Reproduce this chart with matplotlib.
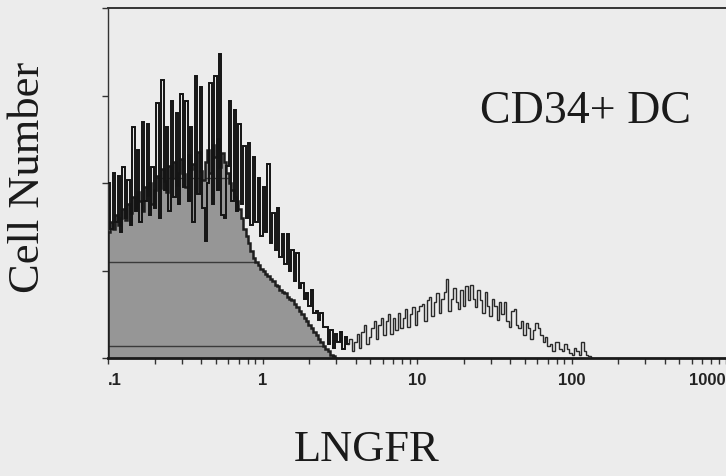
import numpy as np
import matplotlib
matplotlib.use("Agg")
import matplotlib.pyplot as plt
from matplotlib.ticker import FixedLocator, LogLocator, NullFormatter

# histogram channels: 256 bins over 4 log decades (0.1 .. 1000)
n_channels = 256
decade_lo, decade_hi = -1, 3

# isotype control (grey filled), counts per channel from channel 0
control_counts = [72, 78, 74, 82, 76, 80, 85, 79, 88, 83,
                  92, 86, 95, 90, 84, 98, 93, 100, 88, 96,
                  104, 97, 108, 101, 95, 110, 103, 112, 99, 106,
                  114, 105, 98, 116, 108, 111, 95, 118, 107, 102,
                  112, 119, 106, 122, 115, 125, 109, 117, 112, 106,
                  100, 96, 92, 90, 85, 80, 74, 70, 66, 61,
                  57, 55, 53, 51, 50, 48, 47, 45, 44, 42,
                  41, 39, 38, 37, 35, 34, 33, 31, 29, 27,
                  25, 23, 21, 19, 17, 15, 13, 11, 9, 7,
                  5, 4, 2, 1, 0]

# LNGFR stained CD34+ DC (open line), counts per channel from channel 0
sample_counts = [100, 74, 106, 78, 104, 72, 109, 80, 102, 76,
                 132, 84, 119, 78, 135, 90, 134, 82, 109, 86,
                 146, 80, 159, 96, 132, 84, 147, 92, 140, 88,
                 151, 98, 147, 90, 132, 78, 161, 94, 155, 86,
                 67, 100, 157, 88, 161, 96, 174, 82, 80, 110,
                 147, 90, 142, 84, 134, 88, 121, 80, 123, 76,
                 115, 78, 103, 70, 98, 72, 111, 66, 83, 62,
                 86, 58, 71, 54, 71, 50, 62, 44, 60, 40,
                 43, 34, 37, 30, 39, 26, 27, 22, 26, 18,
                 18, 8, 16, 6, 14, 9, 15, 5, 12, 8,
                 11, 4, 9, 14, 6, 15, 19, 8, 12, 17,
                 21, 11, 19, 23, 13, 21, 25, 14, 23, 16,
                 26, 17, 23, 28, 18, 25, 29, 19, 27, 30,
                 31, 21, 33, 35, 24, 32, 37, 26, 34, 38,
                 45, 27, 34, 40, 32, 28, 39, 30, 41, 33,
                 42, 34, 29, 39, 33, 26, 38, 30, 24, 34,
                 30, 22, 32, 25, 32, 21, 18, 27, 28, 19,
                 17, 21, 13, 20, 17, 11, 16, 20, 17, 13,
                 9, 12, 7, 8, 4, 9, 9, 5, 4, 8,
                 5, 3, 2, 6, 4, 2, 9, 4, 2, 1, 0]

# scanner streaks across the grey fill (count levels)
streak_levels = [7, 55, 103]

tick_values = [0.1, 1, 10, 100, 1000]
tick_labels = [".1", "1", "10", "100", "1000"]

bg = "#ececec"
fig = plt.figure(figsize=(7.26, 4.76), dpi=100, facecolor=bg)
ax = fig.add_axes([108 / 726, 1 - 358 / 476, 618 / 726, 350 / 476], facecolor=bg)

edges = 10 ** np.linspace(decade_lo, decade_hi, n_channels + 1)
ce = edges[:len(control_counts) + 1]
se = edges[:len(sample_counts) + 1]

fill = ax.stairs(control_counts, ce, fill=True, color="#969696", zorder=2)
ax.stairs(control_counts, ce, color="#1e1e1e", lw=1.8, zorder=3)
for lvl in streak_levels:
    ln = ax.axhline(lvl, color="#3a3a3a", lw=1.0, zorder=2.5)
    ln.set_clip_path(fill)

# heavier trace over the first peak, lighter over the tail
ax.stairs(sample_counts[:100], se[:101], baseline=None,
          color="#141414", lw=1.4, zorder=4)
ax.stairs(sample_counts[99:], se[99:], baseline=None,
          color="#2a2a2a", lw=1.0, zorder=4)

ax.set_xscale("log")
ax.set_xlim(0.1, 1000)
ax.set_ylim(0, 200)

ax.xaxis.set_major_locator(FixedLocator(tick_values))
ax.set_xticklabels(tick_labels, fontfamily="Liberation Sans",
                   fontweight="bold", fontsize=12, color="#222222")
ax.xaxis.set_minor_locator(LogLocator(base=10, subs=np.arange(2, 10)))
ax.xaxis.set_minor_formatter(NullFormatter())
labels = ax.get_xticklabels()
labels[0].set_ha("left")
labels[-1].set_ha("right")

ax.set_yticks([0, 50, 100, 150, 200])
ax.set_yticklabels([])
ax.tick_params(axis="both", which="both", direction="out", length=4,
               width=1.0, color="#333333")
ax.tick_params(axis="x", which="major", pad=7)

ax.spines["right"].set_visible(False)
ax.spines["bottom"].set_linewidth(2.0)
ax.spines["bottom"].set_color("#1a1a1a")
ax.spines["top"].set_linewidth(1.4)
ax.spines["top"].set_color("#333333")
ax.spines["left"].set_linewidth(1.0)
ax.spines["left"].set_color("#333333")
ax.spines["bottom"].set_zorder(5)

serif = "Liberation Serif"
fig.text(28 / 726, 1 - 177 / 476, "Cell Number", rotation=90, ha="center",
         va="center", fontfamily=serif, fontsize=32, color="#1a1a1a")
fig.text(367 / 726, 1 - 450 / 476, "LNGFR", ha="center", va="center",
         fontfamily=serif, fontsize=32, color="#1a1a1a")
fig.text(585 / 726, 1 - 123 / 476, "CD34+ DC", ha="center", va="baseline",
         fontfamily=serif, fontsize=33, color="#1a1a1a")

fig.savefig("out.png", dpi=100, facecolor=bg)
